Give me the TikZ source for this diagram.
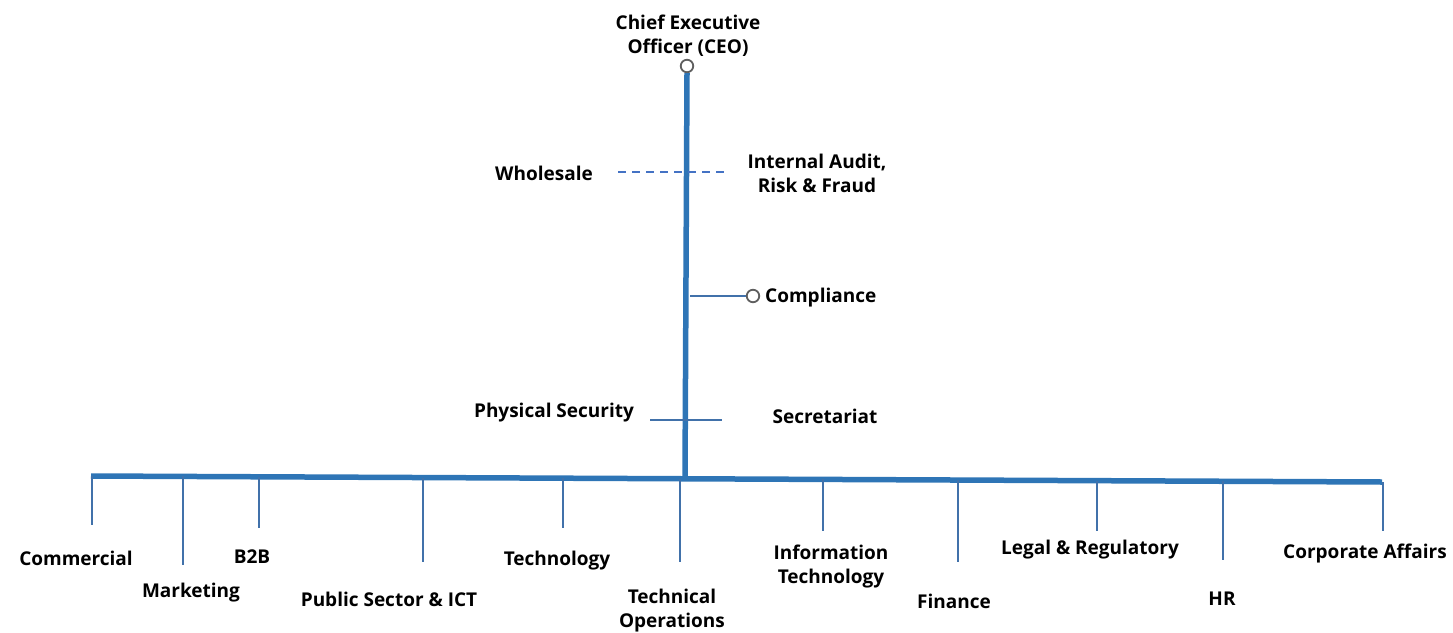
\documentclass[tikz,border=0pt]{standalone}
\usepackage{fontspec}
\setmainfont{Open Sans}
\usetikzlibrary{calc}
\definecolor{barblue}{RGB}{46,117,182}
\definecolor{linkblue}{RGB}{65,113,170}
\definecolor{dashblue}{RGB}{68,114,196}
\definecolor{knobgrey}{RGB}{95,95,95}
\newcommand{\dept}[6] % name, x in px, drop end y in px, label x, label y, text
{
	% drop from the bus
	\coordinate (#1top) at (#2,{476+6*(#2-91)/1291});
	\coordinate (#1end) at (#2,#3);
	\draw[drop] (#1top) -- (#1end);
	% label
	\node[lbl] (#1) at (#4,#5) {#6};
}

\begin{document}
\begin{tikzpicture}[x=1pt, y=-1pt,
	lbl/.style={align=center, inner sep=0pt, yshift=-2pt, font=\fontsize{19}{24}\selectfont\bfseries},
	bar/.style={draw=barblue, line width=5.5pt},
	drop/.style={draw=linkblue, line width=1.2pt},
	knob/.style={circle, draw=knobgrey, fill=white, line width=1.8pt, minimum size=12.5pt, inner sep=0pt}]
	% 1453px x 632px
	\useasboundingbox (0,0) rectangle (1453,632);
	% chief executive
	\node[lbl] (ceo) at (688,34) {Chief Executive\\Officer (CEO)};
	\node[knob] (ceoknob) at (687,66) {};
	\coordinate (busjoin) at (685,478);
	\draw[bar] (ceoknob.south) -- (busjoin);
	% bus
	\coordinate (busl) at (91,476);
	\coordinate (busr) at (1382,482);
	\draw[bar] (busl) -- (busr);
	% dotted line - wholesale, internal audit
	\coordinate (wsl) at (618,172);
	\coordinate (wsr) at (726,172);
	\draw[draw=dashblue, line width=1.5pt, dash pattern=on 8pt off 6pt] (wsl) -- (wsr);
	\node[lbl] (wholesale) at (544,171) {Wholesale};
	\node[lbl] (audit) at (817,171) {Internal Audit,\\Risk \& Fraud};
	% compliance
	\coordinate (cpl) at (690,296);
	\node[knob] (cpknob) at (753,296) {};
	\draw[drop] (cpl) -- (cpknob.west);
	\node[lbl, anchor=west] (compliance) at (765,296) {Compliance};
	% security, secretariat
	\coordinate (psl) at (650,420);
	\coordinate (psr) at (722,420);
	\draw[drop] (psl) -- (psr);
	\node[lbl] (security) at (554,411) {Physical Security};
	\node[lbl] (secretariat) at (825,414) {Secretariat};
	% departments
	\dept{commercial}{92}{525}{76}{556}{Commercial};
	\dept{marketing}{183}{565}{191}{591}{Marketing};
	\dept{btob}{259}{528}{252}{555}{B2B};
	\dept{public}{423}{562}{389}{597}{Public Sector \& ICT};
	\dept{technology}{563}{528}{557}{559}{Technology};
	\dept{techops}{680}{562}{672}{609}{Technical\\Operations};
	\dept{infotech}{823}{531}{831}{565}{Information\\Technology};
	\dept{finance}{958}{562}{954}{599}{Finance};
	\dept{legal}{1097}{531}{1090}{548}{Legal \& Regulatory};
	\dept{hr}{1223}{560}{1222}{597}{HR};
	\dept{corporate}{1383}{531}{1365}{552}{Corporate Affairs};
\end{tikzpicture}
\end{document}
